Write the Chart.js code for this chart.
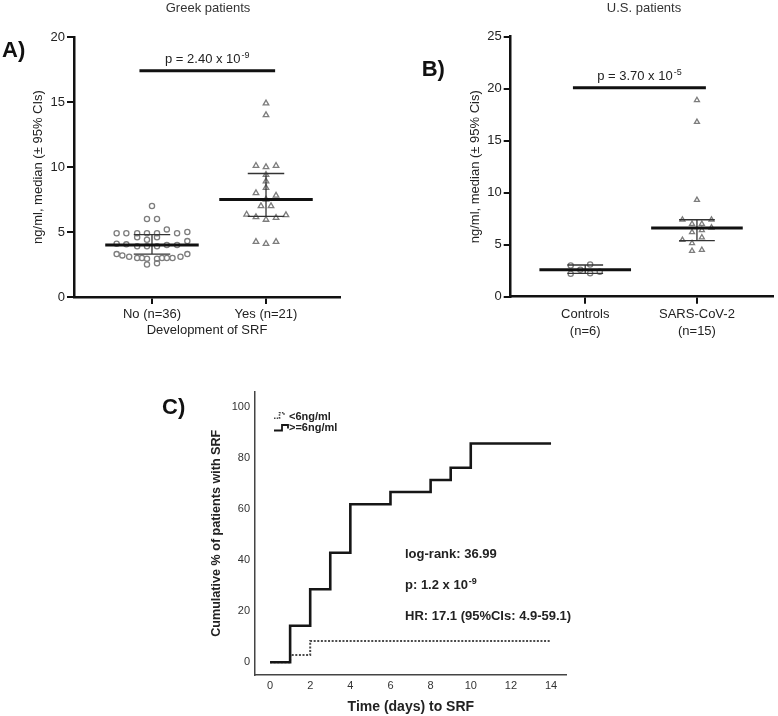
<!DOCTYPE html>
<html>
<head>
<meta charset="utf-8">
<title>SRF marker levels and cumulative SRF</title>
<script src="https://cdn.jsdelivr.net/npm/chart.js@4.4.1/dist/chart.umd.min.js"></script>
<style>
  html, body { margin: 0; padding: 0; background: #fff; }
  body { position: relative; width: 778px; height: 716px; overflow: hidden; }
  canvas { position: absolute; }
  #chart-a { left: 0; top: 0; }
  #chart-b { left: 390px; top: 0; }
  #chart-c { left: 160px; top: 380px; }
</style>
</head>
<body>
<canvas id="chart-a" width="390" height="360"></canvas>
<canvas id="chart-b" width="388" height="360"></canvas>
<canvas id="chart-c" width="440" height="336"></canvas>
<script>
( function () {
  'use strict';

  const SANS = '"Liberation Sans", Arial, Helvetica, sans-serif';

  // Panel A: Greek patients, split by development of SRF.
  const greekGroups = [ 'No (n=36)', 'Yes (n=21)' ];
  const greekNo = [
    7.0,
    6.0, 6.0,
    4.9, 4.9, 4.9, 4.9, 4.9, 5.2, 4.9, 5.0,
    4.6, 4.4, 4.6,
    4.1, 4.05, 3.9, 3.9, 3.9, 4.0, 4.0, 4.3,
    3.3, 3.2, 3.1, 3.0, 3.0, 2.95, 2.95, 3.0, 3.0, 3.0, 3.1, 3.3,
    2.5, 2.6,
  ];
  const greekNoSpread = [
    0,
    -0.044, 0.044,
    -0.31, -0.225, -0.13, -0.044, 0.044, 0.13, 0.22, 0.31,
    -0.13, -0.044, 0.044,
    -0.31, -0.225, -0.13, -0.044, 0.044, 0.13, 0.22, 0.31,
    -0.31, -0.26, -0.2, -0.13, -0.088, -0.044, 0.044, 0.088, 0.13, 0.18, 0.25, 0.31,
    -0.044, 0.044,
  ];
  const greekYes = [ 14.9, 14.0, 10.1, 10.0, 10.1, 9.4, 8.9, 8.4, 8.0, 7.8, 7.5, 7.0, 7.0, 6.35, 6.3, 6.15, 6.1, 5.95, 4.25, 4.1, 4.25 ];
  const greekYesSpread = [ 0, 0, -0.088, 0, 0.088, 0, 0, 0, -0.088, 0.088, 0, -0.044, 0.044, -0.17, 0.175, -0.088, 0.088, 0, -0.088, 0, 0.088 ];
  const greekMedian = [ 4.0, 7.5 ];
  const greekCiLow = [ 3.3, 6.2 ];
  const greekCiHigh = [ 4.8, 9.5 ];
  const greekBarY = 17.4;

  // Panel B: U.S. patients, controls vs SARS-CoV-2.
  const usGroups = [ [ 'Controls', '(n=6)' ], [ 'SARS-CoV-2', '(n=15)' ] ];
  const usControls = [ 3.0, 2.2, 2.6, 3.1, 2.25, 2.4 ];
  const usControlsSpread = [ -0.13, -0.13, -0.044, 0.044, 0.044, 0.13 ];
  const usCovid = [ 18.9, 16.8, 9.3, 7.4, 7.4, 7.0, 7.0, 6.65, 6.2, 6.4, 5.7, 5.45, 5.15, 4.4, 4.5 ];
  const usCovidSpread = [ 0, 0, 0, -0.13, 0.13, -0.044, 0.044, 0.13, -0.044, 0.044, 0.044, -0.13, -0.044, -0.044, 0.044 ];
  const usMedian = [ 2.6, 6.6 ];
  const usCiLow = [ 2.25, 5.4 ];
  const usCiHigh = [ 3.05, 7.4 ];
  const usBarY = 20.1;

  // Panel C: cumulative % of patients with SRF.
  const kmDaysHigh = [ 0, 1, 2, 3, 4, 6, 8, 9, 10, 14 ];
  const kmPctHigh = [ 0, 14.3, 28.6, 42.9, 61.9, 66.7, 71.4, 76.2, 85.7, 85.7 ];
  const kmDaysLow = [ 0, 1, 2, 14 ];
  const kmPctLow = [ 0, 2.8, 8.3, 8.3 ];
  const kmDayTicks = [ 0, 2, 4, 6, 8, 10, 12, 14 ];
  const kmPctTicks = [ 0, 20, 40, 60, 80, 100 ];

  // Widths of the summary marks, in group units.
  const MEDIAN_HALF = 0.41;
  const CAP_HALF = 0.16;
  const BAR_FROM = 0.89;
  const BAR_TO = 2.08;

  Chart.defaults.font.family = SANS;
  Chart.defaults.color = '#222';

  /**
   * Text (with optional superscript) or small path drawn after the chart.
   */
  function notesPlugin( items ) {
    return {
      id: 'notes',
      afterDraw( chart ) {
        const ctx = chart.ctx;
        items.forEach( ( item ) => {
          const pos = typeof item.at === 'function' ? item.at( chart ) : item.at;
          if ( item.path ) {
            drawPath( ctx, item, pos );
          } else {
            drawNote( ctx, item, pos );
          }
        } );
      },
    };
  }

  function drawNote( ctx, item, pos ) {
    const size = item.size || 13;
    const weight = item.bold ? 'bold ' : '';
    const mainFont = weight + size + 'px ' + SANS;
    const supFont = weight + Math.round( size * 0.72 ) + 'px ' + SANS;
    ctx.save();
    ctx.fillStyle = item.color || '#222';
    ctx.textBaseline = 'alphabetic';
    ctx.textAlign = 'left';
    ctx.font = mainFont;
    const mainWidth = ctx.measureText( item.text ).width;
    ctx.font = supFont;
    const supWidth = item.sup ? ctx.measureText( item.sup ).width + 1 : 0;
    let x = pos.x;
    if ( item.align === 'center' ) {
      x -= ( mainWidth + supWidth ) / 2;
    }
    ctx.font = mainFont;
    ctx.fillText( item.text, x, pos.y );
    if ( item.sup ) {
      ctx.font = supFont;
      ctx.fillText( item.sup, x + mainWidth + 1, pos.y - size * 0.4 );
    }
    ctx.restore();
  }

  function drawPath( ctx, item, pos ) {
    ctx.save();
    ctx.strokeStyle = item.color;
    ctx.lineWidth = item.width;
    ctx.setLineDash( item.dash || [] );
    ctx.beginPath();
    item.path.forEach( ( p, i ) => {
      if ( i === 0 ) {
        ctx.moveTo( pos.x + p[ 0 ], pos.y + p[ 1 ] );
      } else {
        ctx.lineTo( pos.x + p[ 0 ], pos.y + p[ 1 ] );
      }
    } );
    ctx.stroke();
    ctx.restore();
  }

  function segment( x0, y0, x1, y1, width, color ) {
    return {
      data: [ { x: x0, y: y0 }, { x: x1, y: y1 } ],
      showLine: true,
      borderColor: color,
      borderWidth: width,
      pointRadius: 0,
      borderCapStyle: 'butt',
    };
  }

  // Median, 95% CI whiskers and the significance bar of one dot plot.
  function summarySets( medians, ciLow, ciHigh, barY ) {
    const sets = [];
    medians.forEach( ( m, i ) => {
      const g = i + 1;
      sets.push( segment( g - MEDIAN_HALF, m, g + MEDIAN_HALF, m, 3, '#111' ) );
      sets.push( segment( g - CAP_HALF, ciHigh[ i ], g + CAP_HALF, ciHigh[ i ], 1.3, '#333' ) );
      sets.push( segment( g - CAP_HALF, ciLow[ i ], g + CAP_HALF, ciLow[ i ], 1.3, '#333' ) );
      sets.push( segment( g, ciLow[ i ], g, ciHigh[ i ], 1.3, '#333' ) );
    } );
    sets.push( segment( BAR_FROM, barY, BAR_TO, barY, 3, '#111' ) );
    return sets;
  }

  function pointSet( values, spread, group, style, radius ) {
    return {
      data: values.map( ( v, i ) => ( { x: group + spread[ i ], y: v } ) ),
      pointStyle: style,
      pointRadius: radius,
      borderColor: '#7d7d7d',
      backgroundColor: 'rgba(255,255,255,0)',
      borderWidth: 1.3,
      pointBorderWidth: 1.3,
    };
  }

  function dotPlotOptions( p ) {
    return {
      responsive: false,
      animation: false,
      events: [],
      layout: { padding: { top: p.padTop, right: p.padRight, left: 0, bottom: 0 } },
      plugins: {
        legend: { display: false },
        tooltip: { enabled: false },
      },
      scales: {
        x: {
          type: 'linear',
          min: p.xMin,
          max: p.xMax,
          afterBuildTicks: ( s ) => {
            s.ticks = p.labels.map( ( l, i ) => ( { value: i + 1 } ) );
          },
          afterFit: ( s ) => {
            s.height = p.xHeight;
          },
          ticks: {
            callback: ( v ) => p.labels[ v - 1 ],
            padding: 2,
            color: '#222',
            font: { size: 13, lineHeight: 1.3 },
            maxRotation: 0,
            autoSkip: false,
          },
          grid: { drawOnChartArea: false, tickLength: 7, color: '#111', lineWidth: 2 },
          border: { color: '#111', width: 2.5 },
          title: {
            display: !! p.xTitle,
            text: p.xTitle || '',
            color: '#222',
            font: { size: 13 },
            padding: { top: 0, bottom: p.xTitlePad },
          },
        },
        y: {
          min: 0,
          max: p.yMax,
          afterFit: ( s ) => {
            s.width = p.yWidth;
          },
          ticks: { stepSize: 5, padding: 2, color: '#222', font: { size: 13 } },
          grid: { drawOnChartArea: false, tickLength: 7, color: '#111', lineWidth: 2 },
          border: { color: '#111', width: 2.5 },
          title: {
            display: true,
            text: p.yTitle,
            color: '#222',
            font: { size: 13 },
            padding: { top: p.yTitlePad, bottom: 0 },
          },
        },
      },
    };
  }

  function barNote( text, sup, barY ) {
    return {
      text: text,
      sup: sup,
      align: 'center',
      size: 13,
      at: ( c ) => ( {
        x: c.scales.x.getPixelForValue( ( BAR_FROM + BAR_TO ) / 2 ),
        y: c.scales.y.getPixelForValue( barY ) - 7.5,
      } ),
    };
  }

  // Panel A.
  new Chart( document.getElementById( 'chart-a' ), {
    type: 'scatter',
    data: {
      datasets: summarySets( greekMedian, greekCiLow, greekCiHigh, greekBarY ).concat( [
        pointSet( greekNo, greekNoSpread, 1, 'circle', 2.6 ),
        pointSet( greekYes, greekYesSpread, 2, 'triangle', 3.2 ),
      ] ),
    },
    options: dotPlotOptions( {
      labels: greekGroups,
      xMin: 0.316,
      xMax: 2.649,
      yMax: 20,
      padTop: 37,
      padRight: 50,
      xHeight: 63,
      yWidth: 74,
      xTitle: 'Development of SRF',
      xTitlePad: 22,
      yTitle: 'ng/ml, median (± 95% CIs)',
      yTitlePad: 30.5,
    } ),
    plugins: [ notesPlugin( [
      { text: 'Greek patients', align: 'center', size: 13, color: '#333', at: { x: 208, y: 11.5 } },
      { text: 'A)', bold: true, size: 22, color: '#111', at: { x: 2, y: 57 } },
      barNote( 'p = 2.40 x 10', '-9', greekBarY ),
    ] ) ],
  } );

  // Panel B.
  new Chart( document.getElementById( 'chart-b' ), {
    type: 'scatter',
    data: {
      datasets: summarySets( usMedian, usCiLow, usCiHigh, usBarY ).concat( [
        pointSet( usControls, usControlsSpread, 1, 'circle', 2.6 ),
        pointSet( usCovid, usCovidSpread, 2, 'triangle', 2.9 ),
      ] ),
    },
    options: dotPlotOptions( {
      labels: usGroups,
      xMin: 0.333,
      xMax: 2.678,
      yMax: 25,
      padTop: 36.7,
      padRight: 0,
      xHeight: 63.3,
      yWidth: 120.7,
      xTitle: '',
      xTitlePad: 0,
      yTitle: 'ng/ml, median (± 95% Cis)',
      yTitlePad: 77.2,
    } ),
    plugins: [ notesPlugin( [
      { text: 'U.S. patients', align: 'center', size: 13, color: '#333', at: { x: 254, y: 11.5 } },
      { text: 'B)', bold: true, size: 22, color: '#111', at: { x: 31.7, y: 75.5 } },
      barNote( 'p = 3.70 x 10', '-5', usBarY ),
    ] ) ],
  } );

  // Panel C.
  new Chart( document.getElementById( 'chart-c' ), {
    type: 'line',
    data: {
      datasets: [
        {
          label: '>=6ng/ml',
          data: kmDaysHigh.map( ( d, i ) => ( { x: d, y: kmPctHigh[ i ] } ) ),
          stepped: 'before',
          borderColor: '#161616',
          borderWidth: 2.6,
          pointRadius: 0,
          fill: false,
        },
        {
          label: '<6ng/ml',
          data: kmDaysLow.map( ( d, i ) => ( { x: d, y: kmPctLow[ i ] } ) ),
          stepped: 'before',
          borderColor: '#4a4a4a',
          borderWidth: 2,
          borderDash: [ 2, 1.6 ],
          pointRadius: 0,
          fill: false,
        },
      ],
    },
    options: {
      responsive: false,
      animation: false,
      events: [],
      layout: { padding: { top: 6.7, right: 33.3, left: 0, bottom: 0 } },
      plugins: {
        legend: { display: false },
        tooltip: { enabled: false },
      },
      scales: {
        x: {
          type: 'linear',
          min: -0.75,
          max: 14.78,
          afterBuildTicks: ( s ) => {
            s.ticks = kmDayTicks.map( ( v ) => ( { value: v } ) );
          },
          afterFit: ( s ) => {
            s.height = 41;
          },
          ticks: { padding: 4, color: '#333', font: { size: 11 }, maxRotation: 0, autoSkip: false },
          grid: { display: false, drawTicks: false },
          border: { color: '#444', width: 1.5 },
          title: {
            display: true,
            text: 'Time (days) to SRF',
            color: '#222',
            font: { size: 14, weight: 'bold' },
            padding: { top: 0, bottom: 0 },
          },
        },
        y: {
          min: -5,
          max: 106,
          afterBuildTicks: ( s ) => {
            s.ticks = kmPctTicks.map( ( v ) => ( { value: v } ) );
          },
          afterFit: ( s ) => {
            s.width = 95;
          },
          ticks: { padding: 5, color: '#333', font: { size: 11 } },
          grid: { display: false, drawTicks: false },
          border: { color: '#444', width: 1.5 },
          title: {
            display: true,
            text: 'Cumulative % of patients with SRF',
            color: '#222',
            font: { size: 12.6, weight: 'bold' },
            padding: { top: 49.1, bottom: 0 },
          },
        },
      },
    },
    plugins: [ notesPlugin( [
      { text: 'C)', bold: true, size: 22, color: '#111', at: { x: 2, y: 33.6 } },
      { path: [ [ 0, 0 ], [ 5.5, 0 ], [ 5.5, -5.6 ], [ 10, -5.6 ], [ 10, -2.5 ] ], color: '#444', width: 1.6, dash: [ 1.5, 1.2 ], at: { x: 114, y: 38.3 } },
      { text: '<6ng/ml', bold: true, size: 11, color: '#222', at: { x: 129, y: 39.7 } },
      { path: [ [ 0, 0 ], [ 8, 0 ], [ 8, -5.5 ], [ 14, -5.5 ], [ 14, -2 ] ], color: '#161616', width: 1.8, at: { x: 114, y: 50.5 } },
      { text: '>=6ng/ml', bold: true, size: 11, color: '#222', at: { x: 129, y: 50.7 } },
      { text: 'log-rank: 36.99', bold: true, size: 13, color: '#222', at: { x: 245, y: 178.3 } },
      { text: 'p: 1.2 x 10', sup: '-9', bold: true, size: 13, color: '#222', at: { x: 245, y: 209.3 } },
      { text: 'HR: 17.1 (95%CIs: 4.9-59.1)', bold: true, size: 13, color: '#222', at: { x: 245, y: 240 } },
    ] ) ],
  } );
} )();
</script>
</body>
</html>
